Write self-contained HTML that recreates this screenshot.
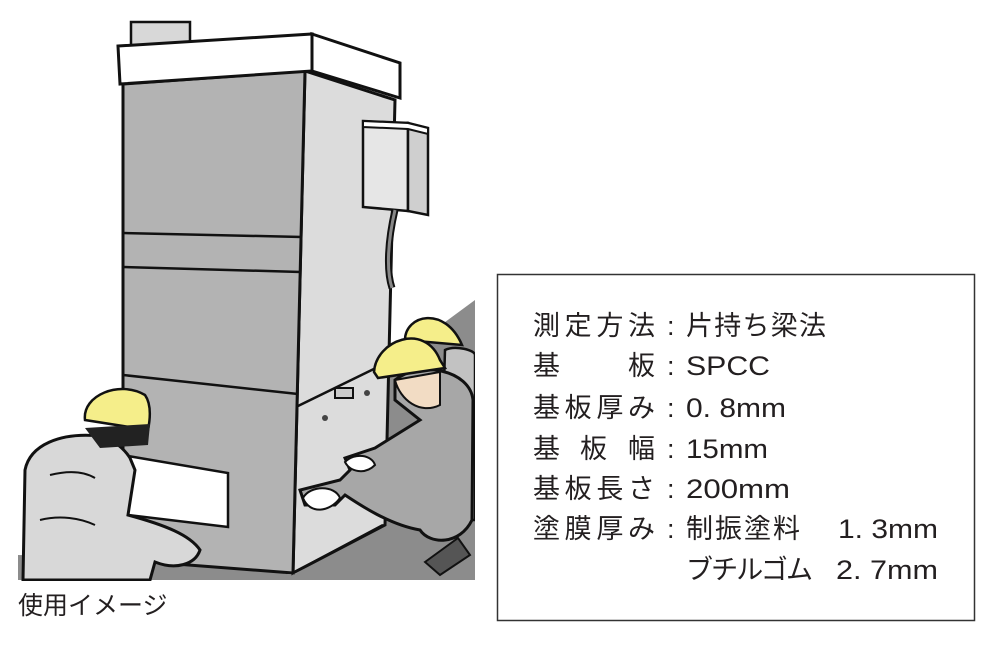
<!DOCTYPE html>
<html><head><meta charset="utf-8"><style>
html,body{margin:0;padding:0;background:#fff;}
svg{display:block;}
text{font-family:"Liberation Sans","Noto Sans CJK JP",sans-serif;fill:#231f20;}
</style></head><body>
<svg width="1000" height="648" viewBox="0 0 1000 648" xmlns="http://www.w3.org/2000/svg">
<!-- floor -->
<polygon points="380,370 475,300 475,580 18,580 18,555 200,560 293,575 383,525" fill="#8c8c8c"/>
<!-- chimney -->
<rect x="131" y="22" width="59" height="24" fill="#d8d8d8" stroke="#111" stroke-width="2.5"/>
<!-- side face -->
<polygon points="305,71 395,100 385,525 293,573" fill="#dcdcdc" stroke="#111" stroke-width="3"/>
<!-- front face -->
<polygon points="123,84 305,71 293,573 123,560" fill="#b3b3b3" stroke="#111" stroke-width="3"/>
<line x1="123" y1="233" x2="302" y2="237" stroke="#111" stroke-width="2.5"/>
<line x1="123" y1="267" x2="301" y2="272" stroke="#111" stroke-width="2.5"/>
<line x1="123" y1="375" x2="298" y2="394" stroke="#111" stroke-width="2.5"/>
<line x1="298" y1="406" x2="382" y2="365" stroke="#111" stroke-width="2.5"/>
<line x1="293" y1="573" x2="383" y2="525" stroke="#111" stroke-width="2.5"/>
<!-- cap -->
<polygon points="118,46 312,34 312,71 120,84" fill="#fff" stroke="#111" stroke-width="3"/>
<polygon points="312,34 400,63 400,98 312,71" fill="#fff" stroke="#111" stroke-width="3"/>
<!-- electric box -->
<polygon points="363,121 408,123 408,211 363,207" fill="#e6e6e6" stroke="#111" stroke-width="2.5"/>
<polygon points="408,123 428,128 428,215 408,211" fill="#cfcfcf" stroke="#111" stroke-width="2.5"/>
<polygon points="363,121 408,123 428,128 428,134 408,129 363,127" fill="#fff" stroke="#111" stroke-width="2"/>
<path d="M395,210 C388,240 386,270 392,288" fill="none" stroke="#111" stroke-width="7"/>
<path d="M395,210 C388,240 386,270 392,288" fill="none" stroke="#888" stroke-width="3"/>
<!-- handle & holes -->
<rect x="335" y="388" width="18" height="10" fill="#ccc" stroke="#111" stroke-width="2"/>
<circle cx="367" cy="393" r="3" fill="#444"/><circle cx="325" cy="418" r="3" fill="#444"/>
<!-- plate -->
<polygon points="128,456 228,473 228,527 128,515" fill="#fff" stroke="#111" stroke-width="2.5"/>
<!-- left worker -->
<path d="M23,580 L25,470 C30,445 60,432 100,436 C115,440 125,450 130,458 L135,470 L128,515 C165,525 190,535 200,550 C195,565 175,570 155,562 L150,580 Z" fill="#d8d8d8" stroke="#111" stroke-width="3"/>
<path d="M50,475 C70,470 85,472 95,478 M40,520 C60,515 80,518 95,525" fill="none" stroke="#111" stroke-width="2"/>
<path d="M85,420 C82,395 120,380 145,395 C152,405 150,420 148,430 Z" fill="#f5ee8a" stroke="#111" stroke-width="2.5"/>
<path d="M85,428 L150,424 L148,445 L100,448 Z" fill="#222"/>
<!-- right back worker -->
<path d="M445,350 C455,345 475,350 475,355 L475,520 L440,520 Z" fill="#c2c2c2" stroke="#111" stroke-width="2.5"/>
<path d="M405,340 C405,315 445,305 462,345 Z" fill="#f5ee8a" stroke="#111" stroke-width="2.5"/>
<!-- right front worker -->
<path d="M395,380 C420,360 470,370 473,400 L472,520 C460,545 430,545 420,530 C390,525 360,505 345,495 L335,505 L305,505 L300,490 L340,480 L350,470 L345,458 L375,448 L420,420 L395,400 Z" fill="#a7a7a7" stroke="#111" stroke-width="3"/>
<path d="M395,380 L440,372 L440,405 C420,415 400,400 395,380 Z" fill="#f2dcc4" stroke="#111" stroke-width="2"/>
<path d="M374,372 C376,340 425,322 440,360 L445,368 L378,378 Z" fill="#f5ee8a" stroke="#111" stroke-width="2.5"/>
<path d="M303,498 C310,485 335,485 340,498 C330,512 310,515 303,498 Z" fill="#fff" stroke="#111" stroke-width="2"/>
<path d="M345,462 C355,452 372,455 375,465 C365,475 350,472 345,462 Z" fill="#fff" stroke="#111" stroke-width="2"/>
<path d="M425,562 L458,538 L470,555 L440,575 Z" fill="#555" stroke="#111" stroke-width="2"/>
<!-- clip edges -->
<rect x="475" y="0" width="20" height="600" fill="#fff"/>
<rect x="0" y="581" width="495" height="20" fill="#fff"/>
<text x="18" y="614" font-size="25">使用イメージ</text>
<!-- box -->
<rect x="497.5" y="274.5" width="477" height="346" fill="none" stroke="#333" stroke-width="1.5"/>
<g font-size="27">
<text x="533" y="335" textLength="122" lengthAdjust="spacing">測定方法</text>
<text x="533" y="375">基</text><text x="628" y="375">板</text>
<text x="533" y="417" textLength="122" lengthAdjust="spacing">基板厚み</text>
<text x="533" y="458">基</text><text x="580" y="458">板</text><text x="628" y="458">幅</text>
<text x="533" y="498" textLength="122" lengthAdjust="spacing">基板長さ</text>
<text x="533" y="538" textLength="122" lengthAdjust="spacing">塗膜厚み</text>
<text x="667" y="335">:</text><text x="667" y="375">:</text><text x="667" y="417">:</text>
<text x="667" y="458">:</text><text x="667" y="498">:</text><text x="667" y="538">:</text>
<text x="686" y="335" textLength="140" lengthAdjust="spacing">片持ち梁法</text>
<text x="686" y="375" textLength="84" lengthAdjust="spacingAndGlyphs">SPCC</text>
<text x="686" y="417" textLength="100" lengthAdjust="spacingAndGlyphs">0. 8mm</text>
<text x="686" y="458" textLength="82" lengthAdjust="spacingAndGlyphs">15mm</text>
<text x="686" y="498" textLength="104" lengthAdjust="spacingAndGlyphs">200mm</text>
<text x="686" y="538" textLength="114" lengthAdjust="spacing">制振塗料</text>
<text x="838" y="538" textLength="100" lengthAdjust="spacingAndGlyphs">1. 3mm</text>
<text x="686" y="579" textLength="127" lengthAdjust="spacing">ブチルゴム</text>
<text x="836" y="579" textLength="102" lengthAdjust="spacingAndGlyphs">2. 7mm</text>
</g>
</svg>
</body></html>
